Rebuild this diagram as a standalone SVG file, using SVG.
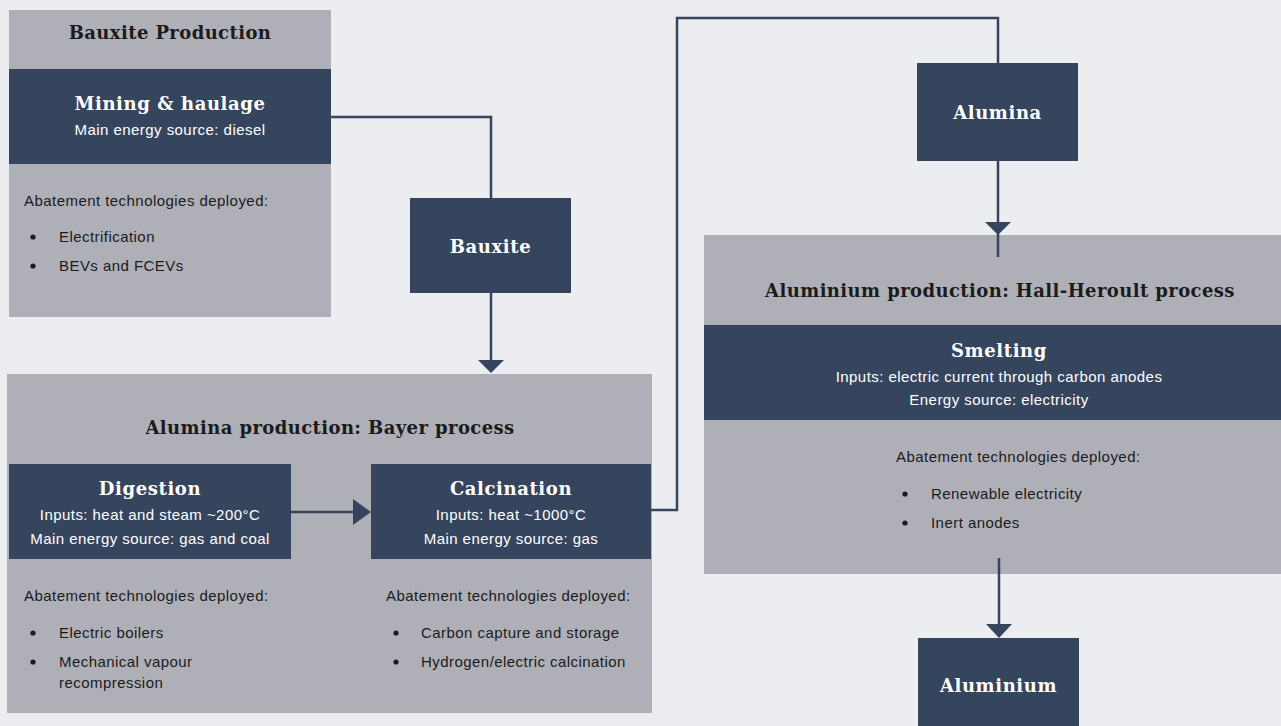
<svg xmlns="http://www.w3.org/2000/svg" width="1281" height="726" viewBox="0 0 1281 726">
<defs>
<style>
.bg{fill:#ECEDF1}
.panel{fill:#AFAFB8}
.dark{fill:#36455E}
.ttl{font-family:"DejaVu Serif","Liberation Serif",serif;font-size:18px;font-weight:bold;letter-spacing:0.4px;fill:#1b1b1b;text-anchor:middle}
.wt{font-family:"DejaVu Serif","Liberation Serif",serif;font-size:18px;font-weight:bold;letter-spacing:0.6px;fill:#ffffff;text-anchor:middle}
.ws{font-family:"Liberation Sans",Arial,sans-serif;font-size:15px;letter-spacing:0.45px;fill:#ffffff;text-anchor:middle}
.bt{font-family:"Liberation Sans",Arial,sans-serif;font-size:15px;letter-spacing:0.45px;fill:#1b1b1b}
.bul{fill:#1b1b1b}
.ln{fill:none;stroke:#36455E;stroke-width:2.5}
</style>
</defs>
<rect class="bg" x="0" y="0" width="1281" height="726"/>

<g id="bauxite-production">
<rect class="panel" x="9" y="10" width="322" height="307"/>
<text class="ttl" x="170" y="39">Bauxite Production</text>
<rect class="dark" x="9" y="69" width="322" height="95"/>
<text class="wt" x="170" y="110">Mining &amp; haulage</text>
<text class="ws" x="170" y="135">Main energy source: diesel</text>
<text class="bt" x="24" y="206">Abatement technologies deployed:</text>
<circle class="bul" cx="33" cy="237" r="2.6"/>
<text class="bt" x="59" y="242">Electrification</text>
<circle class="bul" cx="33" cy="266" r="2.6"/>
<text class="bt" x="59" y="271">BEVs and FCEVs</text>
</g>

<g id="bauxite">
<rect class="dark" x="410" y="198" width="161" height="95"/>
<text class="wt" x="490.5" y="253">Bauxite</text>
</g>

<g id="alumina-production">
<rect class="panel" x="7" y="374" width="645" height="339"/>
<text class="ttl" x="330" y="434">Alumina production: Bayer process</text>
</g>

<g id="digestion">
<rect class="dark" x="9" y="464" width="282" height="95"/>
<text class="wt" x="150" y="495">Digestion</text>
<text class="ws" x="150" y="520">Inputs: heat and steam ~200°C</text>
<text class="ws" x="150" y="544">Main energy source: gas and coal</text>
<text class="bt" x="24" y="601">Abatement technologies deployed:</text>
<circle class="bul" cx="33" cy="633" r="2.6"/>
<text class="bt" x="59" y="638">Electric boilers</text>
<circle class="bul" cx="33" cy="662" r="2.6"/>
<text class="bt" x="59" y="667">Mechanical vapour</text>
<text class="bt" x="59" y="688">recompression</text>
</g>

<g id="calcination">
<rect class="dark" x="371" y="464" width="280" height="95"/>
<text class="wt" x="511" y="495">Calcination</text>
<text class="ws" x="511" y="520">Inputs: heat ~1000°C</text>
<text class="ws" x="511" y="544">Main energy source: gas</text>
<text class="bt" x="386" y="601">Abatement technologies deployed:</text>
<circle class="bul" cx="396" cy="633" r="2.6"/>
<text class="bt" x="421" y="638">Carbon capture and storage</text>
<circle class="bul" cx="396" cy="662" r="2.6"/>
<text class="bt" x="421" y="667">Hydrogen/electric calcination</text>
</g>

<g id="alumina">
<rect class="dark" x="917" y="63" width="161" height="98"/>
<text class="wt" x="997.5" y="119">Alumina</text>
</g>

<g id="aluminium-production">
<rect class="panel" x="704" y="235" width="577" height="339"/>
<text class="ttl" x="1000" y="297">Aluminium production: Hall-Heroult process</text>
<rect class="dark" x="704" y="325" width="577" height="95"/>
<text class="wt" x="999" y="357">Smelting</text>
<text class="ws" x="999" y="382">Inputs: electric current through carbon anodes</text>
<text class="ws" x="999" y="405">Energy source: electricity</text>
<text class="bt" x="896" y="462">Abatement technologies deployed:</text>
<circle class="bul" cx="905" cy="494" r="2.6"/>
<text class="bt" x="931" y="499">Renewable electricity</text>
<circle class="bul" cx="905" cy="523" r="2.6"/>
<text class="bt" x="931" y="528">Inert anodes</text>
</g>

<g id="aluminium">
<rect class="dark" x="918" y="638" width="161" height="88"/>
<text class="wt" x="998.5" y="692">Aluminium</text>
</g>

<g id="connectors">
<polyline class="ln" points="331,117 491,117 491,198"/>
<line class="ln" x1="491" y1="293" x2="491" y2="360"/>
<path d="M478,360 L504,360 L491,373 Z" fill="#36455E"/>
<line class="ln" x1="291" y1="512" x2="355" y2="512"/>
<path d="M353,499 L371,512 L353,525 Z" fill="#36455E"/>
<polyline class="ln" points="651,510 677,510 677,18 998,18 998,63"/>
<line class="ln" x1="998" y1="161" x2="998" y2="257"/>
<path d="M985,222 L1011,222 L998,235 Z" fill="#36455E"/>
<line class="ln" x1="999" y1="558" x2="999" y2="626"/>
<path d="M986,624 L1012,624 L999,638 Z" fill="#36455E"/>
</g>
</svg>
